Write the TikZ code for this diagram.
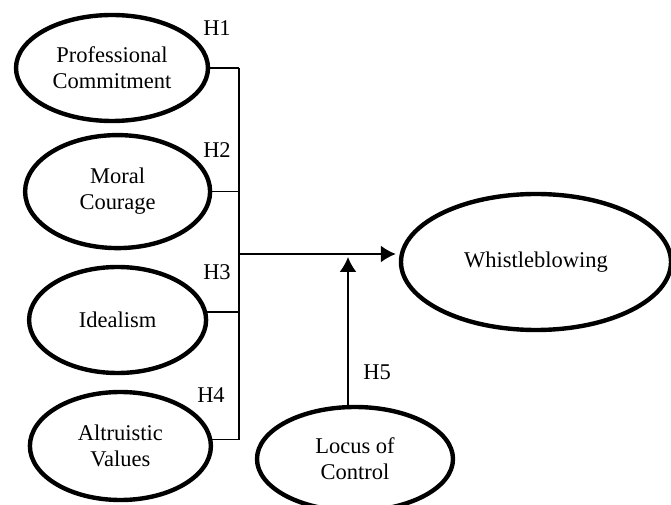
\documentclass[tikz,border=0pt]{standalone}
\usepackage{fontspec}
\setmainfont{Liberation Serif}
\usepackage{tikz}
\usetikzlibrary{positioning}
\usetikzlibrary{calc}
\usetikzlibrary{shapes.geometric}
\usetikzlibrary{arrows.meta}
\tikzset{
    % A solid triangular head, as in the printed model
    >={Latex[length=3.75mm, width=4.25mm]},
%
    % Used for every construct of the model
    construct/.style={
        draw, ellipse, line width=1.1mm, inner sep=0, align=center},
%
    % Thin lines that join the constructs
    link/.style={line width=0.45mm},
%
    % Hypothesis labels
    hypothesis/.style={inner sep=0}}

\begin{document}
\begin{tikzpicture}
\fontsize{16}{18.5}\selectfont
\useasboundingbox (0,0) rectangle (167.75mm,-126.25mm);

% Independent constructs on the left
\node [construct, minimum width=48mm, minimum height=26.5mm]
    (commitment) at (28mm,-17mm) {Professional\\Commitment};
\node [construct, minimum width=46.25mm, minimum height=28.25mm]
    (courage) at (29.4mm,-47.9mm) {Moral\\Courage};
\node [construct, minimum width=44.25mm, minimum height=26.5mm]
    (idealism) at (29.4mm,-80mm) {Idealism};
\node [construct, minimum width=45.25mm, minimum height=27mm]
    (altruism) at (30.1mm,-111.5mm) {Altruistic\\Values};

% Dependent construct and moderator
\node [construct, minimum width=67.5mm, minimum height=34mm]
    (whistle) at (134mm,-65.5mm) {Whistleblowing};
\node [construct, minimum width=49mm, minimum height=26mm]
    (locus) at (88.75mm,-114.75mm) {Locus of\\Control};

% Joining bar and the two arrows
\coordinate (hub) at (59.75mm,-63.5mm);
\coordinate (tip) at (87mm,-64.25mm);

\draw [link] (commitment.east) -- (commitment.east -| hub);
\draw [link] (courage.east) -- (courage.east -| hub);
\draw [link] (idealism.5) -- (idealism.5 -| hub);
\draw [link] (altruism.4) -- (altruism.4 -| hub);
\draw [link] (hub |- commitment.east) -- (hub |- altruism.4);

\draw [link, ->, shorten >=0.75mm] (hub) -- (hub -| whistle.west);
\draw [link, ->] (locus.north -| tip) -- (tip);

% Hypotheses
\node [hypothesis] (h1) at (54.25mm,-7mm) {H1};
\node [hypothesis] (h2) at (54.25mm,-37.5mm) {H2};
\node [hypothesis] (h3) at (54.25mm,-68mm) {H3};
\node [hypothesis] (h4) at (52.75mm,-98.75mm) {H4};
\node [hypothesis] (h5) at (94.25mm,-93mm) {H5};

\end{tikzpicture}
\end{document}
